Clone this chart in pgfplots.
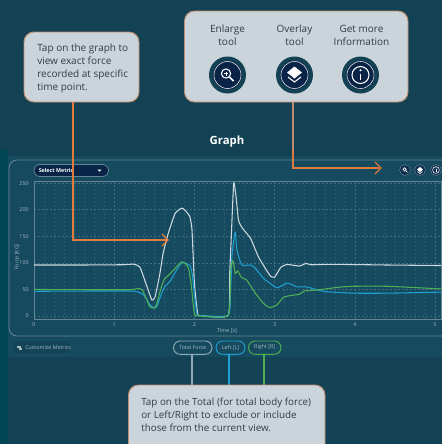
\documentclass[border=0pt]{standalone}
\usepackage{pgfplots}
\pgfplotsset{compat=1.18}
\usepackage{fontspec}
\setmainfont{Open Sans}
\definecolor{bgc}{RGB}{19,66,84}
\definecolor{strip}{RGB}{2,70,84}
\definecolor{panel}{RGB}{22,74,95}
\definecolor{callout}{RGB}{203,212,218}
\definecolor{cborder}{RGB}{190,140,110}
\definecolor{orangeL}{RGB}{226,122,60}
\definecolor{navy}{RGB}{10,36,72}
\definecolor{ctext}{RGB}{50,60,70}
\definecolor{gridc}{RGB}{62,108,128}
\definecolor{gridm}{RGB}{44,94,114}
\definecolor{framec}{RGB}{100,132,148}
\definecolor{ticktxt}{RGB}{165,185,195}
\definecolor{whiteL}{RGB}{205,217,222}
\definecolor{blueL}{RGB}{30,160,210}
\definecolor{greenL}{RGB}{80,175,85}
\newcommand{\fsz}[2]{\fontsize{#1}{#2}\selectfont}
\newcommand{\bigicon}[1]{%
  \fill[bgc] (#1,75) circle (18.5);
  \fill[navy] (#1,75) circle (14.5);
  \draw[white!85!navy,line width=.45pt] (#1,75) circle (13.5);
}
\begin{document}
\begin{tikzpicture}
\useasboundingbox (0pt,0pt) rectangle (331.5pt,-333pt);
\begin{scope}[x=0.75pt,y=-0.75pt]
\fill[bgc] (0,0) rectangle (442,444);
\fill[strip] (0,150) rectangle (8,444);
\fill[panel] (8,156) rectangle (442,357);
\draw[framec,line width=.7pt,rounded corners=6pt] (442,160) -- (9,160) -- (9,336) -- (442,336);
\end{scope}
% plot
\begin{axis}[
  at={(25.5pt,-239.25pt)}, anchor=south west, scale only axis,
  width=305.25pt, height=103.5pt,
  xmin=0, xmax=5.075, ymin=-5.6, ymax=254,
  xtick={0,1,2,3,4,5}, ytick={0,50,100,150,200,250},
  minor xtick={0.125,0.25,...,5.0},
  xmajorgrids, ymajorgrids, xminorgrids,
  major grid style={draw=gridc,dash pattern=on 1.5pt off 1.5pt,line width=.35pt},
  minor grid style={draw=gridm,dash pattern=on 1.5pt off 1.5pt,line width=.3pt},
  axis line style={framec,line width=.7pt},
  tick style={draw=none}, minor tick length=0pt, major tick length=0pt,
  ticklabel style={font=\fsz{4}{5}, text=ticktxt},
  /pgf/number format/assume math mode=true,
  xticklabel style={yshift=1pt}, yticklabel style={xshift=-0.5pt},
  every axis plot/.append style={line join=round, line width=.8pt},
]
\addplot[whiteL, no markers, smooth, tension=0.3] coordinates {
(0,96)(0.6,96)(1.1,96.5)(1.24,97.5)(1.32,92)(1.41,55)(1.47,30)(1.51,36)(1.57,80)(1.61,118)(1.675,156)
(1.76,193)(1.85,203)(1.94,188)(1.97,162)(2.0,62)(2.04,5)(2.07,1)(2.42,1)(2.44,80)(2.46,149)(2.49,250)
(2.52,224)(2.55,180)(2.6,165)(2.7,146)(2.8,111)(2.9,86)(2.95,75)(3.0,73)(3.08,92)(3.16,97)(3.31,94)
(3.39,99)(3.45,96.5)(3.6,97)(3.9,97)(4.4,96)(5.075,95)};
\addplot[blueL, no markers, smooth, tension=0.3] coordinates {
(0,46.5)(0.6,47)(1.2,47)(1.3,45)(1.38,38)(1.44,22)(1.5,15)(1.53,17)(1.58,38)(1.63,55)(1.7,66)(1.78,87)
(1.85,101)(1.95,94)(1.98,70)(2.0,40)(2.03,5)(2.06,1)(2.42,1)(2.45,43)(2.47,118)(2.51,158)(2.53,124)
(2.59,96)(2.7,96)(2.76,90)(2.86,71)(2.94,62)(3.03,53)(3.16,62)(3.28,55)(3.41,54.5)(3.53,49)(3.66,45.6)
(4.0,43)(4.4,43)(5.075,45)};
\addplot[greenL, no markers, smooth, tension=0.3] coordinates {
(0,50)(0.6,49.5)(1.2,49.5)(1.3,52)(1.35,49)(1.4,33)(1.44,18)(1.48,15)(1.52,18)(1.57,45)(1.62,68)(1.7,80)
(1.78,93)(1.84,102)(1.9,97)(1.93,88)(1.96,60)(1.98,30)(2.0,5)(2.02,1)(2.42,1)(2.45,86)(2.48,104)(2.51,80)
(2.54,85)(2.59,72)(2.65,68)(2.76,43)(2.86,24)(2.94,16)(3.03,21)(3.12,36)(3.31,41)(3.37,47)(3.53,49)
(3.82,54.5)(4.0,56)(4.4,56)(5.075,51)};
\end{axis}
\begin{scope}[x=0.75pt,y=-0.75pt]
\node[rotate=90,text=ticktxt,font=\fsz{4}{5}] at (17,257) {Force [KG]};
\node[text=ticktxt,font=\fsz{4}{5}] at (227,330.5) {Time [s]};
\node[text=white,font=\fsz{8.5}{10}\bfseries] at (227,142) {Graph};
\draw[framec,fill=navy,line width=.6pt,rounded corners=4.5pt] (34,164.5) rectangle (108.5,176.5);
\node[anchor=west,text=white,font=\fsz{4}{5}\bfseries,inner sep=0pt] at (38.5,170.5) {Select Metric};
\fill[white] (97.5,169.5) -- (101.5,169.5) -- (99.5,171.5) -- cycle;
\foreach \xx in {405,420,436}{
  \fill[navy!70!panel] (\xx,170) circle (5.8);
  \draw[framec,line width=.4pt] (\xx,170) circle (5.5);
}
\draw[white,line width=.5pt] (404.6,169.4) circle (1.7);
\draw[white,line width=.5pt] (405.8,170.6) -- (407.5,172.3);
\fill[white] (420,167) -- (423,169.5) -- (420,172) -- (417,169.5) -- cycle;
\draw[white,line width=.5pt] (417.5,171.5) -- (420,173.5) -- (422.5,171.5);
\draw[white,line width=.4pt] (436,170) circle (3.4);
\draw[white,line width=.6pt] (436,169.2) -- (436,172);
\fill[white] (436,167.9) circle (.5);
\draw[framec!70!white,fill=panel,line width=.7pt,rounded corners=5pt] (173.5,341) rectangle (212,354.3);
\node[text=ticktxt,font=\fsz{4}{5}] at (192.7,347.6) {Total Force};
\draw[blueL,fill=panel,line width=.7pt,rounded corners=5pt] (216,341) rectangle (245,354.3);
\node[text=ticktxt,font=\fsz{4}{5}] at (230.5,347.6) {Left [L]};
\draw[greenL,fill=panel,line width=.7pt,rounded corners=5pt] (248.5,341) rectangle (281,354.3);
\node[text=ticktxt,font=\fsz{4}{5}] at (264.7,347.6) {Right [R]};
\draw[bgc!85!blueL,fill=bgc!70!panel,line width=.5pt,rounded corners=3pt] (12,340.5) rectangle (70.5,354.5);
\node[anchor=west,text=ticktxt,font=\fsz{4}{5},inner sep=0pt] at (25,347.6) {Customize Metrics};
\fill[ticktxt] (17,345.8) rectangle (20.5,348);
\fill[ticktxt] (19.5,348) rectangle (22,349.6);
\draw[framec!70!white,line width=.9pt] (192,354.3) -- (192,386);
\draw[blueL,line width=.9pt] (229,354.3) -- (229,386);
\draw[greenL,line width=.9pt] (264,354.3) -- (264,386);
\draw[orangeL,line width=1pt] (73,102) -- (73,240) -- (166,240);
\draw[orangeL,line width=1pt] (162,234) -- (168,240) -- (162,246);
\draw[cborder,line width=1pt] (293,102) -- (293,150);
\draw[orangeL,line width=1pt] (293,150) -- (293,168) -- (379,168);
\draw[orangeL,line width=1pt] (375,162) -- (381,168) -- (375,174);
\draw[cborder,fill=callout,line width=.7pt,rounded corners=7.5pt] (24,32) rectangle (139,102);
\node[anchor=north west,align=left,text=ctext,inner sep=0pt,font=\fsz{7.5}{9.75}] at (37,43.5)
 {Tap on the graph to\\view exact force\\recorded at specific\\time point.};
\draw[cborder,fill=callout,line width=.7pt,rounded corners=7.5pt] (184.5,11) rectangle (408,102);
\node[align=center,text=ctext,inner sep=0pt,font=\fsz{7.5}{9.75}] at (227.5,35.5) {Enlarge\\tool};
\node[align=center,text=ctext,inner sep=0pt,font=\fsz{7.5}{9.75}] at (294.5,35.5) {Overlay\\tool};
\node[align=center,text=ctext,inner sep=0pt,font=\fsz{7.5}{9.75}] at (361.5,35.5) {Get more\\Information};
\bigicon{227.5}\bigicon{294.5}\bigicon{360.5}
\draw[white,line width=.8pt] (226,73.5) circle (4.6);
\draw[white,line width=1.1pt] (229.5,77) -- (233.5,81);
\draw[white,line width=.5pt] (224,73.5) -- (228,73.5) (226,71.5) -- (226,75.5);
\fill[white] (294.5,66.5) -- (302,72.5) -- (294.5,78.5) -- (287,72.5) -- cycle;
\draw[white,line width=.8pt] (288,77) -- (294.5,82) -- (301,77);
\draw[white,line width=.8pt] (360.5,75) circle (8.5);
\draw[white,line width=1.3pt] (360.5,73.5) -- (360.5,80);
\fill[white] (360.5,70.3) circle (1.1);
\draw[cborder,fill=callout,line width=.7pt,rounded corners=7.5pt] (128.5,385) rectangle (325,460);
\node[anchor=north west,align=left,text=ctext,inner sep=0pt,font=\fsz{7.4}{9.75}] at (141,397.5)
 {Tap on the Total (for total body force)\\or Left/Right to exclude or include\\those from the current view.};
\end{scope}
\end{tikzpicture}
\end{document}
